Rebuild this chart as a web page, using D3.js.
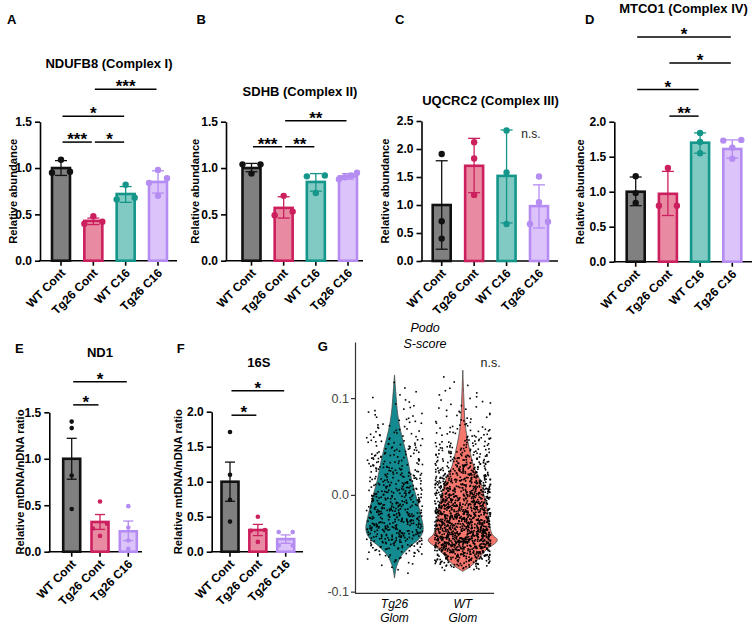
<!DOCTYPE html>
<html>
<head>
<meta charset="utf-8">
<script src="https://cdn.jsdelivr.net/npm/d3@7"></script>
<style>
  body { margin: 0; background: #fff; }
  svg text { font-family: "Liberation Sans", Arial, sans-serif; }
</style>
</head>
<body>
<svg id="fig" width="754" height="626"></svg>
<script>
// ---- data ----
var groups4 = ["WT Cont", "Tg26 Cont", "WT C16", "Tg26 C16"];
var groups3 = ["WT Cont", "Tg26 Cont", "Tg26 C16"];

var ndufb8Mean = [1.00, 0.43, 0.72, 0.85];
var ndufb8Err = [[0.92, 1.08], [0.39, 0.46], [0.63, 0.80], [0.73, 0.97]];
var ndufb8Pts = [[1.09, 0.96, 0.95], [0.48, 0.42, 0.40], [0.82, 0.68, 0.66], [0.98, 0.89, 0.84, 0.70]];
var ndufb8Sig = [
  {from: "Tg26 Cont", to: "Tg26 C16", at: 1.85, label: "***"},
  {from: "WT Cont", to: "WT C16", at: 1.56, label: "*"},
  {from: "WT Cont", to: "Tg26 Cont", at: 1.28, label: "***"},
  {from: "Tg26 Cont", to: "WT C16", at: 1.28, label: "*"}
];

var sdhbMean = [1.00, 0.57, 0.85, 0.91];
var sdhbErr = [[0.96, 1.05], [0.46, 0.69], [0.75, 0.94], [0.88, 0.94]];
var sdhbPts = [[1.04, 1.04, 0.94], [0.70, 0.49, 0.53], [0.92, 0.91, 0.73], [0.95, 0.92, 0.90, 0.88]];
var sdhbSig = [
  {from: "WT Cont", to: "Tg26 Cont", at: 1.23, label: "***"},
  {from: "Tg26 Cont", to: "WT C16", at: 1.23, label: "**"},
  {from: "Tg26 Cont", to: "Tg26 C16", at: 1.51, label: "**"}
];

var uqcrc2Mean = [1.00, 1.70, 1.52, 0.98];
var uqcrc2Err = [[0.21, 1.79], [1.22, 2.19], [0.68, 2.34], [0.59, 1.36]];
var uqcrc2Pts = [[1.91, 0.71, 0.40], [2.12, 1.83, 1.18], [2.33, 1.58, 0.66], [1.51, 1.05, 0.70, 0.66]];

var mtco1Mean = [1.00, 0.97, 1.70, 1.61];
var mtco1Err = [[0.80, 1.21], [0.66, 1.29], [1.55, 1.84], [1.48, 1.74]];
var mtco1Pts = [[1.22, 0.98, 0.84], [1.34, 0.80, 0.80], [1.84, 1.71, 1.55], [1.74, 1.73, 1.63, 1.47]];
var mtco1Sig = [
  {from: "WT Cont", to: "Tg26 C16", at: 3.21, label: "*"},
  {from: "Tg26 Cont", to: "Tg26 C16", at: 2.84, label: "*"},
  {from: "WT Cont", to: "WT C16", at: 2.46, label: "*"},
  {from: "Tg26 Cont", to: "WT C16", at: 2.08, label: "**"}
];

var nd1Mean = [1.00, 0.32, 0.22];
var nd1Err = [[0.78, 1.22], [0.24, 0.40], [0.12, 0.33]];
var nd1Pts = [[1.40, 1.33, 0.82, 0.46], [0.54, 0.30, 0.25, 0.17], [0.49, 0.26, 0.12, 0.03]];
var nd1Sig = [
  {from: "WT Cont", to: "Tg26 C16", at: 1.83, label: "*"},
  {from: "WT Cont", to: "Tg26 Cont", at: 1.58, label: "*"}
];

var s16Mean = [1.00, 0.31, 0.18];
var s16Err = [[0.72, 1.28], [0.23, 0.39], [0.12, 0.24]];
var s16Pts = [[1.71, 1.10, 0.74, 0.43], [0.50, 0.31, 0.30, 0.14], [0.28, 0.28, 0.09, 0.09]];
var s16Sig = [
  {from: "WT Cont", to: "Tg26 C16", at: 2.30, label: "*"},
  {from: "WT Cont", to: "Tg26 Cont", at: 1.95, label: "*"}
];

// violin panel: score levels and relative width (density) of each violin
var violinGroups = ["Tg26 Glom", "WT Glom"];
var tg26Score   = [0.124, 0.100, 0.084, 0.067, 0.050, 0.033, 0.015, -0.002, -0.019, -0.036, -0.045, -0.053, -0.063, -0.074, -0.086];
var tg26Density = [0, 0.05, 0.09, 0.17, 0.29, 0.40, 0.50, 0.63, 0.75, 0.83, 0.72, 0.46, 0.20, 0.06, 0];
var wtScore   = [0.129, 0.100, 0.077, 0.060, 0.043, 0.029, 0.015, -0.012, -0.040, -0.047, -0.057, -0.067, -0.074, -0.079];
var wtDensity = [0, 0.03, 0.06, 0.12, 0.22, 0.32, 0.50, 0.69, 0.84, 1.00, 0.67, 0.43, 0.22, 0];
var cellCounts = [580, 1450];

// ---- styling ----
var groupFill = {"WT Cont": "#808080", "Tg26 Cont": "#e98aa3", "WT C16": "#80cac3", "Tg26 C16": "#dcc4fb"};
var groupStroke = {"WT Cont": "#111111", "Tg26 Cont": "#cc1f5e", "WT C16": "#15968a", "Tg26 C16": "#b48cf2"};

var fig = d3.select("#fig");

function letter(t, x, y) {
  fig.append("text").attr("x", x).attr("y", y).text(t)
    .style("font-weight", "bold").style("font-size", "13px");
}

// spread points with nearly the same value sideways, like a column scatter
function spreadOffsets(vals, y, spread) {
  var idx = vals.map(function(v, i) { return i; }).sort(function(a, b) { return vals[a] - vals[b]; });
  var off = vals.map(function() { return 0; });
  var cluster = [idx[0]];
  function flush() {
    var m = cluster.length;
    cluster.forEach(function(k, j) { off[k] = m > 1 ? (j / (m - 1) - 0.5) * 2 * spread : 0; });
  }
  for (var i = 1; i < idx.length; i++) {
    if (Math.abs(y(vals[idx[i]]) - y(vals[idx[i - 1]])) < 5.5) cluster.push(idx[i]);
    else { flush(); cluster = [idx[i]]; }
  }
  flush();
  return off;
}

function barPanel(p) {
  var g = fig.append("g");
  var y = d3.scaleLinear().domain(p.domain).range([p.yBase, p.yTop]);
  var x = d3.scalePoint().domain(p.groups).range(p.cx);

  // y axis
  var ya = g.append("g").attr("transform", "translate(" + p.axisX + ",0)")
    .call(d3.axisLeft(y).tickValues(p.ticks).tickFormat(d3.format(".1f")).tickSize(5).tickSizeOuter(0));
  ya.select(".domain").attr("stroke", "#000").attr("stroke-width", 1.6);
  ya.selectAll(".tick line").attr("stroke", "#000").attr("stroke-width", 1.6);
  ya.selectAll(".tick text").attr("x", -8).style("font-size", "12px").style("font-weight", "bold")
    .attr("fill", "#000").style("font-family", "'Liberation Sans', Arial, sans-serif");

  // x axis line + ticks
  g.append("line").attr("x1", p.axisX - 0.8).attr("x2", p.axisEnd).attr("y1", p.yBase).attr("y2", p.yBase)
    .attr("stroke", "#000").attr("stroke-width", 1.6);
  g.selectAll(".xt").data(p.groups).enter().append("line")
    .attr("x1", function(d) { return x(d); }).attr("x2", function(d) { return x(d); })
    .attr("y1", p.yBase).attr("y2", p.yBase + 5).attr("stroke", "#000").attr("stroke-width", 1.6);
  g.selectAll(".xl").data(p.groups).enter().append("text")
    .attr("transform", function(d) { return "translate(" + (x(d) + 5) + "," + (p.yBase + 13) + ") rotate(-45)"; })
    .attr("text-anchor", "end").style("font-size", "12px").style("font-weight", "bold")
    .text(function(d) { return d; });

  // bars
  g.selectAll(".bar").data(p.groups).enter().append("rect")
    .attr("x", function(d) { return x(d) - p.bw / 2; })
    .attr("y", function(d, i) { return y(p.mean[i]); })
    .attr("width", p.bw)
    .attr("height", function(d, i) { return p.yBase - y(p.mean[i]); })
    .attr("fill", function(d) { return groupFill[d]; })
    .attr("stroke", function(d) { return groupStroke[d]; })
    .attr("stroke-width", 2.6);

  // error bars and points
  p.groups.forEach(function(d, i) {
    var lo = p.err[i][0], hi = p.err[i][1], c = groupStroke[d];
    g.append("line").attr("x1", x(d)).attr("x2", x(d)).attr("y1", y(lo)).attr("y2", y(hi))
      .attr("stroke", c).attr("stroke-width", 1.3);
    [lo, hi].forEach(function(v) {
      g.append("line").attr("x1", x(d) - p.cap / 2).attr("x2", x(d) + p.cap / 2)
        .attr("y1", y(v)).attr("y2", y(v)).attr("stroke", c).attr("stroke-width", 1.3);
    });
    var off = spreadOffsets(p.pts[i], y, p.spread);
    g.selectAll(null).data(p.pts[i]).enter().append("circle")
      .attr("cx", function(v, k) { return x(d) + off[k]; })
      .attr("cy", function(v) { return y(v); })
      .attr("r", p.r).attr("fill", c);
  });

  // significance brackets
  (p.sig || []).forEach(function(s) {
    var x1 = x(s.from) + 1.5, x2 = x(s.to) - 1.5, yy = y(s.at);
    g.append("line").attr("x1", x1).attr("x2", x2).attr("y1", yy).attr("y2", yy)
      .attr("stroke", "#000").attr("stroke-width", 1.5);
    g.append("text").attr("x", (x1 + x2) / 2).attr("y", yy + 3).attr("text-anchor", "middle")
      .style("font-size", "17px").style("font-weight", "bold").text(s.label);
  });

  if (p.note) {
    g.append("text").attr("x", x(p.note.near) - 8).attr("y", y(p.note.at)).attr("text-anchor", "middle")
      .style("font-size", "12px").attr("fill", "#222").text(p.note.text);
  }

  // title and y label
  g.append("text").attr("x", p.title[1]).attr("y", p.title[2]).attr("text-anchor", "middle")
    .style("font-size", "13px").style("font-weight", "bold").text(p.title[0]);
  g.append("text").attr("transform", "translate(" + p.ylabX + "," + ((p.yBase + p.yTop) / 2) + ") rotate(-90)")
    .attr("text-anchor", "middle").attr("dominant-baseline", "central")
    .style("font-size", "11.2px").style("font-weight", "bold").text(p.ylabel);
}

letter("A", 7, 23.5);
barPanel({groups: groups4, mean: ndufb8Mean, err: ndufb8Err, pts: ndufb8Pts, sig: ndufb8Sig,
  domain: [0, 1.5], ticks: [0, 0.5, 1.0, 1.5], yBase: 260.7, yTop: 121.7,
  axisX: 40, axisEnd: 177, cx: [61, 158], bw: 18, cap: 12, r: 3.2, spread: 9,
  title: ["NDUFB8 (Complex I)", 109, 67.5], ylabel: "Relative abundance", ylabX: 13});

letter("B", 196.5, 23.5);
barPanel({groups: groups4, mean: sdhbMean, err: sdhbErr, pts: sdhbPts, sig: sdhbSig,
  domain: [0, 1.5], ticks: [0, 0.5, 1.0, 1.5], yBase: 260.7, yTop: 121.7,
  axisX: 226, axisEnd: 363, cx: [251.5, 348], bw: 18, cap: 12, r: 3.2, spread: 9,
  title: ["SDHB (Complex II)", 300, 96], ylabel: "Relative abundance", ylabX: 195});

letter("C", 395, 23.5);
barPanel({groups: groups4, mean: uqcrc2Mean, err: uqcrc2Err, pts: uqcrc2Pts, sig: [],
  note: {text: "n.s.", near: "Tg26 C16", at: 2.2},
  domain: [0, 2.5], ticks: [0, 0.5, 1.0, 1.5, 2.0, 2.5], yBase: 261, yTop: 121,
  axisX: 421.5, axisEnd: 558, cx: [441.7, 539], bw: 18, cap: 12, r: 3.2, spread: 9,
  title: ["UQCRC2 (Complex III)", 490.5, 104.5], ylabel: "Relative abundance", ylabX: 385});

letter("D", 585, 23.5);
barPanel({groups: groups4, mean: mtco1Mean, err: mtco1Err, pts: mtco1Pts, sig: mtco1Sig,
  domain: [0, 2.0], ticks: [0, 0.5, 1.0, 1.5, 2.0], yBase: 261.7, yTop: 121.7,
  axisX: 614.3, axisEnd: 752, cx: [635.7, 732.3], bw: 18, cap: 12, r: 3.2, spread: 9,
  title: ["MTCO1 (Complex IV)", 683.5, 13], ylabel: "Relative abundance", ylabX: 580});

letter("E", 15, 353);
barPanel({groups: groups3, mean: nd1Mean, err: nd1Err, pts: nd1Pts, sig: nd1Sig,
  domain: [0, 1.5], ticks: [0, 0.5, 1.0, 1.5], yBase: 551.7, yTop: 412.3,
  axisX: 49.3, axisEnd: 142, cx: [71.7, 128.3], bw: 17, cap: 10, r: 2.3, spread: 7,
  title: ["ND1", 100, 357], ylabel: "Relative mtDNA/nDNA ratio", ylabX: 20});

letter("F", 176.7, 353);
barPanel({groups: groups3, mean: s16Mean, err: s16Err, pts: s16Pts, sig: s16Sig,
  domain: [0, 2.0], ticks: [0, 0.5, 1.0, 1.5, 2.0], yBase: 551.7, yTop: 411.7,
  axisX: 211.7, axisEnd: 303, cx: [230, 285.7], bw: 17, cap: 10, r: 2.3, spread: 7,
  title: ["16S", 258.8, 366.5], ylabel: "Relative mtDNA/nDNA ratio", ylabX: 178});

// ---- panel G: violins ----
letter("G", 317.7, 351);
(function() {
  var g = fig.append("g");
  var y = d3.scaleLinear().domain([-0.1017, 0.158]).range([593.3, 342]);
  var x = d3.scalePoint().domain(violinGroups).range([394.5, 462.8]);
  var w = d3.scaleLinear().domain([0, 1]).range([0, 34.5]);
  var fills = ["#138a8f", "#f4766c"];
  var profiles = [[tg26Score, tg26Density], [wtScore, wtDensity]];

  profiles.forEach(function(pr, gi) {
    var cx = x(violinGroups[gi]);
    var rows = pr[0].map(function(s, i) { return [s, pr[1][i]]; });
    var area = d3.area().curve(d3.curveCatmullRom.alpha(0.5))
      .y(function(d) { return y(d[0]); })
      .x0(function(d) { return cx - w(d[1]); })
      .x1(function(d) { return cx + w(d[1]); });
    g.append("path").datum(rows).attr("d", area)
      .attr("fill", fills[gi]).attr("stroke", "#4a4a4a").attr("stroke-width", 0.8);
  });

  // cells: evenly spaced quantiles of each violin's density; sideways jitter from a fixed hash
  function jitter(k) {
    var s = Math.sin((k + 1) * 12.9898 + 78.233) * 43758.5453;
    return s - Math.floor(s);
  }
  profiles.forEach(function(pr, gi) {
    var cx = x(violinGroups[gi]);
    var sc = pr[0].slice().reverse(), de = pr[1].slice().reverse();
    var lo = sc[0], hi = sc[sc.length - 1];
    var dens = d3.scaleLinear().domain(sc).range(de);
    var grid = d3.range(0, 401).map(function(i) { return lo + (hi - lo) * i / 400; });
    var cum = [0];
    for (var i = 1; i < grid.length; i++) cum.push(cum[i - 1] + (dens(grid[i]) + dens(grid[i - 1])) / 2);
    var inv = d3.scaleLinear().domain(cum.map(function(c) { return c / cum[cum.length - 1]; })).range(grid);
    var n = cellCounts[gi];
    var cells = d3.range(n).map(function(k) {
      return [inv((k + 0.5) / n), jitter(k + gi * 5000)];
    });
    g.selectAll(null).data(cells).enter().append("rect")
      .attr("x", function(d) { return cx + (d[1] - 0.5) * 56 - 0.8; })
      .attr("y", function(d) { return y(d[0]) - 0.8; })
      .attr("width", 1.6).attr("height", 1.6).attr("fill", "#000");
  });

  var ya = g.append("g").attr("transform", "translate(355,0)")
    .call(d3.axisLeft(y).tickValues([-0.1, 0, 0.1]).tickSize(4).tickSizeOuter(0)
      .tickFormat(function(d) { return d3.format(".1f")(d).replace("\u2212", "-"); }));
  ya.select(".domain").attr("stroke", "#333").attr("stroke-width", 1.2);
  ya.selectAll(".tick line").attr("stroke", "#333").attr("stroke-width", 1.2);
  ya.selectAll(".tick text").attr("x", -6).style("font-size", "12.5px").attr("fill", "#444")
    .style("font-family", "'Liberation Sans', Arial, sans-serif");
  g.append("line").attr("x1", 355).attr("x2", 494).attr("y1", 593.3).attr("y2", 593.3)
    .attr("stroke", "#333").attr("stroke-width", 1.2);

  violinGroups.forEach(function(d) {
    var parts = d.split(" ");
    g.append("text").attr("x", x(d)).attr("y", 608).attr("text-anchor", "middle")
      .style("font-size", "12px").style("font-style", "italic").text(parts[0]);
    g.append("text").attr("x", x(d)).attr("y", 621.5).attr("text-anchor", "middle")
      .style("font-size", "12px").style("font-style", "italic").text(parts[1]);
  });
  g.append("text").attr("x", 425).attr("y", 332).attr("text-anchor", "middle")
    .style("font-size", "12.5px").style("font-style", "italic").text("Podo");
  g.append("text").attr("x", 425).attr("y", 348).attr("text-anchor", "middle")
    .style("font-size", "12.5px").style("font-style", "italic").text("S-score");
  g.append("text").attr("x", 490.7).attr("y", 367).attr("text-anchor", "middle")
    .style("font-size", "12.5px").attr("fill", "#222").text("n.s.");
})();
</script>
</body>
</html>
